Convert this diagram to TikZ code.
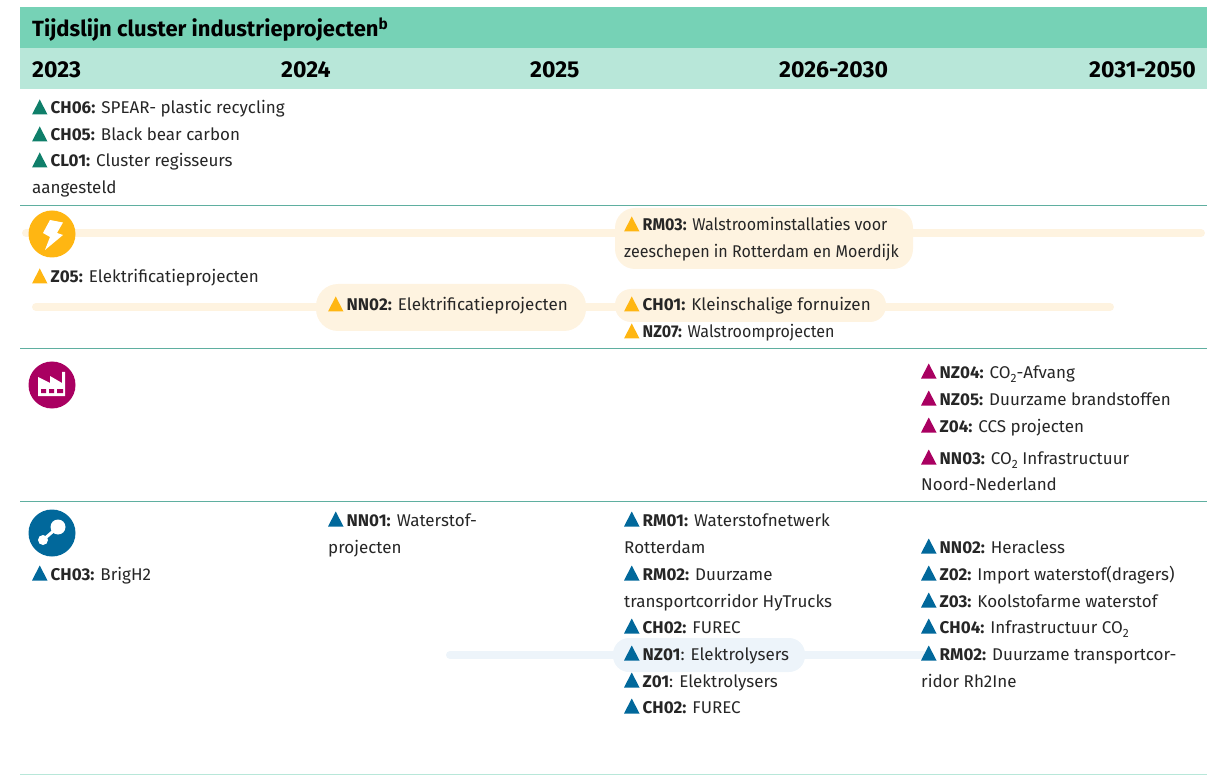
\documentclass[tikz,border=0pt]{standalone}
\usepackage{fontspec}
\setmainfont{Fira Sans}
\definecolor{kopgroen}{HTML}{76D2B6}
\definecolor{jaargroen}{HTML}{B8E7D9}
\definecolor{lijngroen}{HTML}{5FAFA0}
\definecolor{tealtri}{HTML}{0F7F6A}
\definecolor{geel}{HTML}{FFB612}
\definecolor{geelzacht}{HTML}{FEF3E0}
\definecolor{paars}{HTML}{A90061}
\definecolor{blauw}{HTML}{01689B}
\definecolor{blauwzacht}{HTML}{EDF4FA}
\tikzset{
    regel/.style={anchor=base west, inner sep=0pt, font=\fontsize{17}{20}\selectfont, text=black!85},
    krap/.style={transform shape, xscale=0.945},
    jaar/.style={anchor=base west, inner sep=0pt, font=\fontsize{23}{26}\selectfont\bfseries},
    scheiding/.style={draw=lijngroen, line width=1pt},
    balk/.style={line width=8pt, line cap=round}
}
% triangle and text of one project line, y is the baseline
\newcommand{\projectregel}[6][]{
    \fill[#3] (#4, #5 + 0.5) -- (#4 + 15.5, #5 + 0.5) -- (#4 + 7.75, #5 - 14.5) -- cycle;
    \node[regel, #1] (#2) at (#4 + 18.5, #5) {#6};
}
\newcommand{\subtwee}{\raisebox{-4pt}{\fontsize{12}{13}\selectfont 2}}
\begin{document}
\begin{tikzpicture}[x=1pt, y=-1pt]
    \useasboundingbox (0, 0) rectangle (1207, 775);

    \fill[kopgroen] (20, 7) rectangle (1207, 48);
    \fill[jaargroen] (20, 48) rectangle (1207, 89);
    \node[jaar, font=\fontsize{22}{24}\selectfont\bfseries] (titel) at (32, 37) {Tijdslijn cluster industrieprojecten\textsuperscript{b}};
    \node[jaar] (j2023) at (32, 78) {2023};
    \node[jaar] (j2024) at (281, 78) {2024};
    \node[jaar] (j2025) at (530, 78) {2025};
    \node[jaar] (j2026) at (779, 78) {2026-2030};
    \node[jaar, anchor=base east] (j2031) at (1196, 78) {2031-2050};

    \foreach \y in {205.5, 348.5, 501} {
        \draw[scheiding] (20, \y) -- (1207, \y);
    }
    \draw[draw=jaargroen, line width=1pt] (20, 774) -- (1207, 774);

    % bars and pills
    \draw[balk, geelzacht] (26, 233) -- (1201, 233);
    \draw[balk, geelzacht] (36, 307) -- (1110, 307);
    \draw[balk, blauwzacht] (450, 655) -- (925, 655);
    \fill[geelzacht, rounded corners=20pt] (615, 208) rectangle (913, 269);
    \fill[geelzacht, rounded corners=22pt] (316, 284) rectangle (586, 331);
    \fill[geelzacht, rounded corners=16pt] (615, 289) rectangle (886, 322);
    \fill[blauwzacht, rounded corners=16pt] (613, 638) rectangle (805, 672);

    % icons
    \fill[geel] (52, 234) circle (23.5);
    \fill[white] (50, 220) -- (63, 222.5) -- (57, 233) -- (63, 235) -- (45, 250) -- (50, 237) -- (43, 233) -- cycle;
    \fill[paars] (52, 385) circle (23.5);
    \fill[white] (38, 396) -- (38, 377) -- (50, 383) -- (50, 376) -- (62, 383) -- (62, 372) -- (65, 372) -- (65, 396) -- cycle;
    \fill[paars] (41, 389) rectangle (46, 393) (49, 389) rectangle (54, 393) (57, 389) rectangle (63, 393);
    \fill[blauw] (52, 533) circle (23.5);
    \draw[white, line width=3pt] (43, 540) -- (58, 527);
    \fill[white] (43, 540) circle (5) (58, 527) circle (7.5);

    % first row
    \projectregel{ch06}{tealtri}{32}{114}{\textbf{CH06:} SPEAR- plastic recycling}
    \projectregel{ch05}{tealtri}{32}{141}{\textbf{CH05:} Black bear carbon}
    \projectregel{cl01}{tealtri}{32}{167}{\textbf{CL01:} Cluster regisseurs}
    \node[regel] (cl01b) at (32, 194) {aangesteld};

    % electricity
    \projectregel{z05}{geel}{32}{283}{\textbf{Z05:} Elektrificatieprojecten}
    \projectregel{nn02a}{geel}{328}{311}{\textbf{NN02:} Elektrificatieprojecten}
    \projectregel[krap]{rm03}{geel}{624}{231}{\textbf{RM03:} Walstroominstallaties voor}
    \node[regel, krap] (rm03b) at (624, 258) {zeeschepen in Rotterdam en Moerdijk};
    \projectregel{ch01}{geel}{624}{311}{\textbf{CH01:} Kleinschalige fornuizen}
    \projectregel[krap]{nz07}{geel}{624}{338}{\textbf{NZ07:} Walstroomprojecten}

    % industry
    \projectregel{nz04}{paars}{921}{378}{\textbf{NZ04:} CO\subtwee-Afvang}
    \projectregel{nz05}{paars}{921}{405}{\textbf{NZ05:} Duurzame brandstoffen}
    \projectregel{z04}{paars}{921}{432}{\textbf{Z04:} CCS projecten}
    \projectregel{nn03}{paars}{921}{464}{\textbf{NN03:} CO\subtwee{} Infrastructuur}
    \node[regel] (nn03b) at (921, 490) {Noord-Nederland};

    % hydrogen
    \projectregel{ch03}{blauw}{32}{580}{\textbf{CH03:} BrigH2}
    \projectregel{nn01}{blauw}{328}{526}{\textbf{NN01:} Waterstof-}
    \node[regel] (nn01b) at (328, 553) {projecten};
    \projectregel{rm01}{blauw}{624}{526}{\textbf{RM01:} Waterstofnetwerk}
    \node[regel] (rm01b) at (624, 553) {Rotterdam};
    \projectregel{rm02a}{blauw}{624}{580}{\textbf{RM02:} Duurzame}
    \node[regel] (rm02ab) at (624, 607) {transportcorridor HyTrucks};
    \projectregel{ch02a}{blauw}{624}{633}{\textbf{CH02:} FUREC}
    \projectregel{nz01}{blauw}{624}{660}{\textbf{NZ01}: Elektrolysers}
    \projectregel{z01}{blauw}{624}{687}{\textbf{Z01}: Elektrolysers}
    \projectregel{ch02b}{blauw}{624}{713}{\textbf{CH02:} FUREC}
    \projectregel{nn02b}{blauw}{921}{553}{\textbf{NN02:} Heracless}
    \projectregel{z02}{blauw}{921}{580}{\textbf{Z02:} Import waterstof(dragers)}
    \projectregel{z03}{blauw}{921}{607}{\textbf{Z03:} Koolstofarme waterstof}
    \projectregel{ch04}{blauw}{921}{633}{\textbf{CH04:} Infrastructuur CO\subtwee}
    \projectregel{rm02b}{blauw}{921}{660}{\textbf{RM02:} Duurzame transportcor-}
    \node[regel] (rm02bb) at (921, 687) {ridor Rh2Ine};
\end{tikzpicture}
\end{document}
